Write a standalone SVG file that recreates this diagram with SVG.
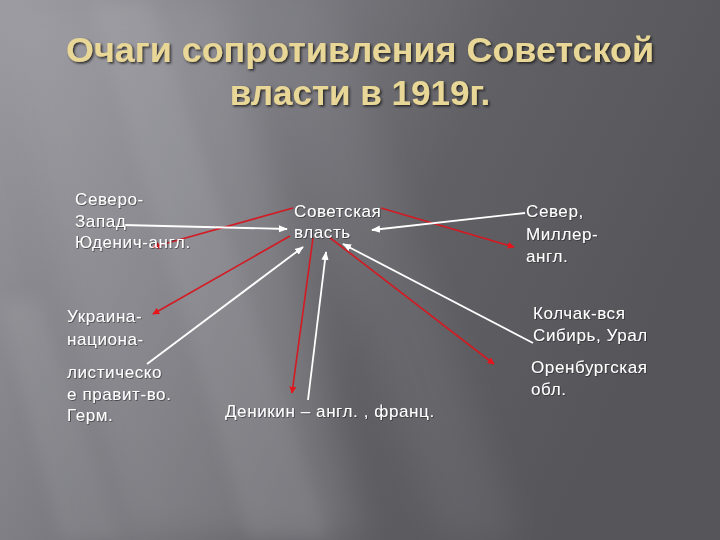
<svg xmlns="http://www.w3.org/2000/svg" width="720" height="540" viewBox="0 0 720 540">
<defs>
<linearGradient id="bg" x1="0" y1="0" x2="1" y2="0.35">
<stop offset="0" stop-color="#9a9aa0"/>
<stop offset="0.35" stop-color="#7c7c82"/>
<stop offset="0.65" stop-color="#606065"/>
<stop offset="1" stop-color="#55555a"/>
</linearGradient>
<filter id="blur" x="-20%" y="-20%" width="140%" height="140%"><feGaussianBlur stdDeviation="18"/></filter>
<filter id="blur2" x="-20%" y="-20%" width="140%" height="140%"><feGaussianBlur stdDeviation="8"/></filter>
<filter id="tsh" x="-5%" y="-20%" width="110%" height="140%"><feDropShadow dx="1.5" dy="1.5" stdDeviation="0.8" flood-color="#1a1a1a" flood-opacity="0.9"/></filter>
<filter id="sh" x="-5%" y="-20%" width="110%" height="140%"><feDropShadow dx="0.8" dy="0.8" stdDeviation="0.5" flood-color="#222" flood-opacity="0.7"/></filter>
<marker id="ar" viewBox="0 0 10 10" refX="9" refY="5" markerWidth="7" markerHeight="7" markerUnits="userSpaceOnUse" orient="auto"><path d="M0,0 L10,5 L0,10 z" fill="#e8141c"/></marker>
<marker id="aw" viewBox="0 0 10 10" refX="9" refY="5" markerWidth="9" markerHeight="9" markerUnits="userSpaceOnUse" orient="auto"><path d="M0,1 L10,5 L0,9 z" fill="#ffffff"/></marker>
<style>
.t{font-family:"Liberation Sans",Arial,sans-serif;font-size:17px;letter-spacing:0.6px;fill:#ffffff;}
.title{font-family:"Liberation Sans",Arial,sans-serif;font-size:35px;font-weight:bold;fill:#e8d797;text-anchor:middle;}
.r{stroke:#d41a22;stroke-width:1.6;fill:none;marker-end:url(#ar);}
.w{stroke:#ffffff;stroke-width:1.8;fill:none;marker-end:url(#aw);}
</style>
</defs>
<rect width="720" height="540" fill="url(#bg)"/>
<g opacity="0.5">
<polygon points="0,0 230,0 360,540 120,540" fill="#b0b0b6" filter="url(#blur)" opacity="0.5"/>
<polygon points="90,0 150,0 330,540 250,540" fill="#c4c4ca" filter="url(#blur2)" opacity="0.3"/>
<polygon points="0,300 40,300 120,540 60,540" fill="#bbbbc0" filter="url(#blur2)" opacity="0.3"/>
<polygon points="240,0 330,0 520,540 440,540" fill="#9a9aa0" filter="url(#blur)" opacity="0.3"/>
</g>
<g id="title" filter="url(#tsh)">
<text class="title" x="360" y="62" textLength="588" lengthAdjust="spacingAndGlyphs">Очаги сопротивления Советской</text>
<text class="title" x="360" y="105">власти в 1919г.</text>
</g>
<g id="connectors">
<line class="r" x1="293" y1="208" x2="153" y2="247"/>
<line class="r" x1="290" y1="236" x2="153" y2="314"/>
<line class="r" x1="313" y1="238" x2="292" y2="393"/>
<line class="r" x1="329" y1="237" x2="494" y2="364"/>
<line class="r" x1="381" y1="208" x2="514" y2="247"/>
<line class="w" x1="123" y1="225" x2="287" y2="229"/>
<line class="w" x1="525" y1="213" x2="372" y2="230"/>
<line class="w" x1="147" y1="364" x2="303" y2="247"/>
<line class="w" x1="308" y1="400" x2="326" y2="252"/>
<line class="w" x1="533" y1="343" x2="343" y2="244"/>
</g>
<g id="n-northwest" filter="url(#sh)">
<text class="t" x="75" y="205">Северо-</text>
<text class="t" x="75" y="227">Запад</text>
<text class="t" x="75" y="248">Юденич-англ.</text>
</g>
<g id="n-soviet" filter="url(#sh)">
<text class="t" x="294" y="217">Советская</text>
<text class="t" x="294" y="238">власть</text>
</g>
<g id="n-north" filter="url(#sh)">
<text class="t" x="526" y="217">Север,</text>
<text class="t" x="526" y="240">Миллер-</text>
<text class="t" x="526" y="262">англ.</text>
</g>
<g id="n-kolchak" filter="url(#sh)">
<text class="t" x="533" y="319">Колчак-вся</text>
<text class="t" x="533" y="341">Сибирь, Урал</text>
</g>
<g id="n-orenburg" filter="url(#sh)">
<text class="t" x="531" y="373">Оренбургская</text>
<text class="t" x="531" y="395">обл.</text>
</g>
<g id="n-ukraine" filter="url(#sh)">
<text class="t" x="67" y="322">Украина-</text>
<text class="t" x="67" y="345">национа-</text>
<text class="t" x="67" y="378">листическо</text>
<text class="t" x="67" y="400">е правит-во.</text>
<text class="t" x="67" y="421">Герм.</text>
</g>
<g id="n-denikin" filter="url(#sh)">
<text class="t" x="225" y="417">Деникин – англ. , франц.</text>
</g>
</svg>
